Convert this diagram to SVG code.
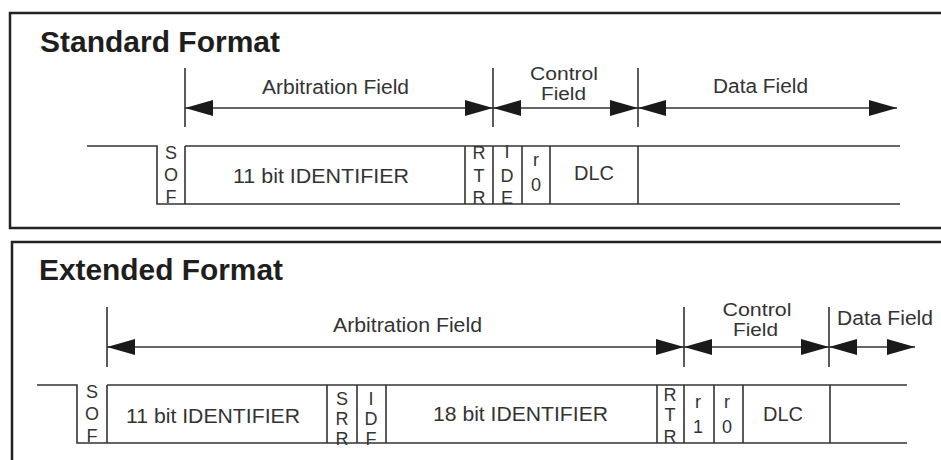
<svg xmlns="http://www.w3.org/2000/svg" width="941" height="460" viewBox="0 0 941 460">
<defs>
<marker id="ah" viewBox="0 0 28 16" refX="28" refY="8" markerWidth="28" markerHeight="16" markerUnits="userSpaceOnUse" orient="auto-start-reverse">
<path d="M0,0 L28,8 L0,16 z" fill="#1a1a1a"/>
</marker>
<style>
.frame{fill:none;stroke:#222;stroke-width:2.5}
.ln{fill:none;stroke:#333;stroke-width:1.6}
.tick{fill:none;stroke:#333;stroke-width:1.6}
.arr{fill:none;stroke:#333;stroke-width:1.6;marker-start:url(#ah);marker-end:url(#ah)}
.title{font-family:"Liberation Sans",Arial,sans-serif;font-weight:bold;font-size:29px;fill:#1e1e1e}
.lbl{font-family:"Liberation Sans",Arial,sans-serif;font-size:20px;fill:#333;text-anchor:middle}
.ctl{font-family:"Liberation Sans",Arial,sans-serif;font-size:18px;fill:#333;text-anchor:middle}
.v{font-family:"Liberation Sans",Arial,sans-serif;font-size:18px;fill:#333;text-anchor:middle}
</style>
</defs>
<rect width="941" height="460" fill="#fff"/>

<!-- Standard Format -->
<g id="std-frame">
<rect class="frame" x="10" y="13" width="940" height="215"/>
<text class="title" x="40" y="52" textLength="240" lengthAdjust="spacingAndGlyphs">Standard Format</text>
</g>
<g id="std-bus">
<polyline class="ln" points="87,146 157,146 157,204 900,204"/>
<line class="ln" x1="185" y1="146" x2="900" y2="146"/>
</g>
<g id="std-sof">
<line class="ln" x1="185" y1="146" x2="185" y2="204"/>
<text class="v" x="171" y="159">S</text><text class="v" x="171" y="181">O</text><text class="v" x="171" y="203">F</text>
</g>
<g id="std-id11">
<text class="lbl" x="321" y="183" textLength="176" lengthAdjust="spacingAndGlyphs">11 bit IDENTIFIER</text>
</g>
<g id="std-rtr">
<line class="ln" x1="465" y1="146" x2="465" y2="204"/>
<text class="v" x="479" y="159">R</text><text class="v" x="479" y="182">T</text><text class="v" x="479" y="204">R</text>
</g>
<g id="std-ide">
<line class="ln" x1="493" y1="146" x2="493" y2="204"/>
<text class="v" x="507" y="158">I</text><text class="v" x="507" y="182">D</text><text class="v" x="507" y="204">E</text>
</g>
<g id="std-r0">
<line class="ln" x1="522" y1="146" x2="522" y2="204"/>
<text class="v" x="536" y="166">r</text><text class="v" x="536" y="191">0</text>
</g>
<g id="std-dlc">
<line class="ln" x1="550" y1="146" x2="550" y2="204"/>
<text class="lbl" x="594" y="180">DLC</text>
</g>
<g id="std-data">
<line class="ln" x1="638" y1="146" x2="638" y2="204"/>
</g>
<g id="std-labels">
<text class="lbl" x="335.5" y="94" textLength="147" lengthAdjust="spacingAndGlyphs">Arbitration Field</text>
<text class="ctl" x="564" y="80" textLength="68" lengthAdjust="spacingAndGlyphs">Control</text>
<text class="ctl" x="563.5" y="100" textLength="45" lengthAdjust="spacingAndGlyphs">Field</text>
<text class="lbl" x="760.5" y="93" textLength="95" lengthAdjust="spacingAndGlyphs">Data Field</text>
</g>

<!-- Extended Format -->
<g id="ext-frame">
<rect class="frame" x="12" y="242" width="940" height="240"/>
<text class="title" x="39" y="280" textLength="244" lengthAdjust="spacingAndGlyphs">Extended Format</text>
</g>
<g id="ext-bus">
<polyline class="ln" points="37,385 77,385 77,443 907,443"/>
<line class="ln" x1="107" y1="385" x2="907" y2="385"/>
</g>
<g id="ext-sof">
<line class="ln" x1="107" y1="385" x2="107" y2="443"/>
<text class="v" x="92" y="398">S</text><text class="v" x="92" y="420">O</text><text class="v" x="92" y="442">F</text>
</g>
<g id="ext-id11">
<text class="lbl" x="213" y="423" textLength="174" lengthAdjust="spacingAndGlyphs">11 bit IDENTIFIER</text>
</g>
<g id="ext-srr">
<line class="ln" x1="327" y1="385" x2="327" y2="443"/>
<text class="v" x="342" y="405">S</text><text class="v" x="342" y="425">R</text><text class="v" x="342" y="445">R</text>
</g>
<g id="ext-idf">
<line class="ln" x1="357" y1="385" x2="357" y2="443"/>
<text class="v" x="371" y="405">I</text><text class="v" x="371" y="425">D</text><text class="v" x="371" y="445">F</text>
</g>
<g id="ext-id18">
<line class="ln" x1="386" y1="385" x2="386" y2="443"/>
<text class="lbl" x="520.5" y="421" textLength="175" lengthAdjust="spacingAndGlyphs">18 bit IDENTIFIER</text>
</g>
<g id="ext-rtr">
<line class="ln" x1="657" y1="385" x2="657" y2="443"/>
<text class="v" x="670" y="401">R</text><text class="v" x="670" y="421">T</text><text class="v" x="670" y="443">R</text>
</g>
<g id="ext-r1">
<line class="ln" x1="684" y1="385" x2="684" y2="443"/>
<text class="v" x="698" y="408">r</text><text class="v" x="698" y="433">1</text>
</g>
<g id="ext-r0">
<line class="ln" x1="714" y1="385" x2="714" y2="443"/>
<text class="v" x="727" y="408">r</text><text class="v" x="727" y="433">0</text>
</g>
<g id="ext-dlc">
<line class="ln" x1="743" y1="385" x2="743" y2="443"/>
<text class="lbl" x="783" y="421">DLC</text>
</g>
<g id="ext-data">
<line class="ln" x1="830" y1="385" x2="830" y2="443"/>
</g>
<g id="ext-labels">
<text class="lbl" x="407.5" y="332" textLength="149" lengthAdjust="spacingAndGlyphs">Arbitration Field</text>
<text class="ctl" x="757" y="316" textLength="69" lengthAdjust="spacingAndGlyphs">Control</text>
<text class="ctl" x="755.5" y="336" textLength="45" lengthAdjust="spacingAndGlyphs">Field</text>
<text class="lbl" x="885" y="325" textLength="96" lengthAdjust="spacingAndGlyphs">Data Field</text>
</g>

<!-- connectors: field span arrows -->
<g id="connectors">
<line class="tick" x1="185" y1="68" x2="185" y2="127"/>
<line class="tick" x1="493" y1="68" x2="493" y2="127"/>
<line class="tick" x1="638" y1="68" x2="638" y2="127"/>
<line class="arr" x1="185" y1="108" x2="493" y2="108"/>
<line class="arr" x1="493" y1="108" x2="638" y2="108"/>
<line class="arr" x1="638" y1="108" x2="897" y2="108"/>

<line class="tick" x1="107" y1="307" x2="107" y2="367"/>
<line class="tick" x1="684" y1="307" x2="684" y2="367"/>
<line class="tick" x1="829" y1="307" x2="829" y2="367"/>
<line class="arr" x1="107" y1="347" x2="684" y2="347"/>
<line class="arr" x1="684" y1="347" x2="829" y2="347"/>
<line class="arr" x1="829" y1="347" x2="915" y2="347"/>
</g>
</svg>
